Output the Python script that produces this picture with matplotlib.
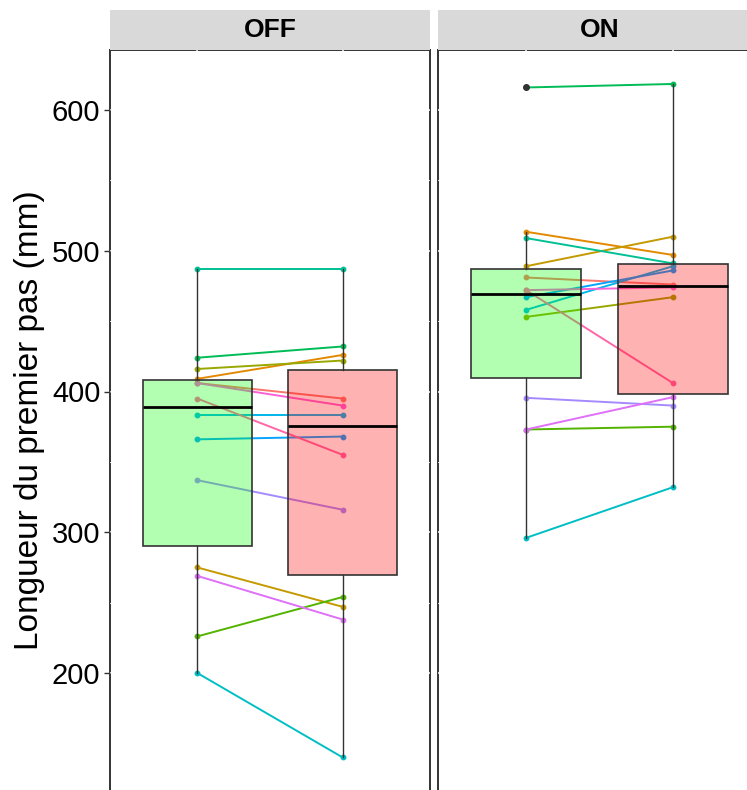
import numpy as np
import matplotlib
matplotlib.use("Agg")
import matplotlib.pyplot as plt

plt.rcParams["font.family"] = ["Liberation Sans", "DejaVu Sans"]

# Step length per subject (mm), first and second measure, per condition.
panels = ["OFF", "ON"]
subjects = list(range(1, 15))
off_first = [406, 409, 275, 416, 226, 424, 487, 200, 383, 366, 337, 269, 406, 395]
off_second = [395, 426, 247, 422, 254, 432, 487, 140, 383, 368, 316, 238, 390, 355]
on_first = [481, 513.5, 489, 453, 373, 616, 509, 296, 458, 467, 395.5, 373, 472, 472]
on_second = [476, 497, 510, 467, 375, 618.5, 491, 332, 489, 486, 390, 396, 474, 406]
yticks = [200, 300, 400, 500, 600]
ylabel = "Longueur du premier pas (mm)"

data = {"OFF": (off_first, off_second), "ON": (on_first, on_second)}


def hue_colour(h, c=100, l=65):
    # ggplot-like hcl -> srgb
    Xn, Yn, Zn = 95.047, 100.0, 108.883
    h = np.deg2rad(h)
    u, v = c*np.cos(h), c*np.sin(h)
    Y = Yn*((l + 16)/116)**3
    den = Xn + 15*Yn + 3*Zn
    up = u/(13*l) + 4*Xn/den
    vp = v/(13*l) + 9*Yn/den
    X = Y*9*up/(4*vp)
    Z = Y*(12 - 3*up - 20*vp)/(4*vp)
    X, Y, Z = X/100, Y/100, Z/100
    rgb = np.array([
        3.240479*X - 1.537150*Y - 0.498535*Z,
        -0.969256*X + 1.875992*Y + 0.041556*Z,
        0.055648*X - 0.204043*Y + 1.057311*Z,
    ])
    rgb = np.where(rgb <= 0.0031308, 12.92*rgb, 1.055*np.abs(rgb)**(1/2.4) - 0.055)
    return tuple(np.clip(rgb, 0, 1))


n = len(subjects)
hues = np.linspace(15, 375, n + 1)[:n]
colours = [hue_colour(h) for h in hues]

W, H = 747, 790
fig = plt.figure(figsize=(W/100, H/100), dpi=100)

panel_x = [(110, 430), (438, 761)]
top_px, bot_px = 50, 792
ylim = (600 - (bot_px - 110)/1.4075, 600 + (110 - top_px)/1.4075)

for i, name in enumerate(panels):
    x0, x1 = panel_x[i]
    ax = fig.add_axes([x0/W, 1 - bot_px/H, (x1 - x0)/W, (bot_px - top_px)/H])
    first, second = data[name]

    for s in range(n):
        ax.plot([1, 2], [first[s], second[s]], color=colours[s], lw=1.4,
                marker="o", ms=3.2, zorder=2)

    bp = ax.boxplot([first, second], positions=[1, 2], widths=0.75,
                    patch_artist=True, whis=1.5, manage_ticks=False,
                    flierprops=dict(marker="o", markerfacecolor="#333333",
                                    markeredgecolor="#333333", markersize=4),
                    medianprops=dict(color="black", lw=2),
                    whiskerprops=dict(color="#333333", lw=1),
                    capprops=dict(visible=False),
                    boxprops=dict(edgecolor="#333333", lw=1.2), zorder=3)
    for patch, fc in zip(bp["boxes"], [(0, 1, 0, 0.3), (1, 0, 0, 0.3)]):
        patch.set_facecolor(fc)

    ax.set_xlim(0.4, 2.6)
    ax.set_ylim(*ylim)
    ax.set_xticks([1, 2])
    ax.set_yticks(yticks)
    ax.set_yticks([250, 350, 450, 550], minor=True)
    ax.set_axisbelow(True)
    ax.grid(True, which="major", color="white", lw=1.1)
    ax.grid(True, which="minor", axis="y", color="white", lw=0.6)
    for sp in ax.spines.values():
        sp.set_color("#333333")
        sp.set_linewidth(1.4)
        sp.set_zorder(0.2)
    ax.tick_params(axis="x", length=0, labelbottom=False)
    ax.tick_params(axis="y", which="minor", length=0)
    if i == 0:
        ax.tick_params(axis="y", which="major", length=4, width=1,
                       color="#333333", labelsize=21, labelcolor="black", pad=3)
    else:
        ax.tick_params(axis="y", which="major", length=0, labelleft=False)

    # facet strip
    sax = fig.add_axes([x0/W, 1 - 50/H, (x1 - x0)/W, 40/H])
    sax.set_facecolor("#D9D9D9")
    for sp in sax.spines.values():
        sp.set_visible(False)
    sax.set_xticks([])
    sax.set_yticks([])
    sax.text(0.5, 0.5, name, ha="center", va="center", fontsize=19,
             fontweight="bold", color="black", transform=sax.transAxes)

fig.text(30/W, 1 - 420/H, ylabel, rotation=90, ha="center", va="center",
         fontsize=24, color="black")

fig.savefig("out.png", dpi=100)
